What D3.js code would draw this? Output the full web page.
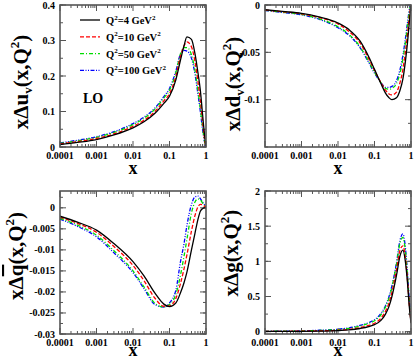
<!DOCTYPE html>
<html><head><meta charset="utf-8">
<script src="https://cdn.jsdelivr.net/npm/d3@7"></script>
<style>
html,body{margin:0;padding:0;background:#fff;}
svg{display:block;}
text{font-family:"Liberation Serif","Times New Roman",serif;font-weight:bold;}
</style></head>
<body>
<svg id="c" width="415" height="361"></svg>
<script>
// ---- data ----
const xValues = [1e-4, 3e-4, 1e-3, 3e-3, 0.01, 0.02, 0.04, 0.07, 0.1, 0.15, 0.2, 0.25, 0.3, 0.4, 0.5, 0.6, 0.7, 0.8, 0.9, 1];
const legendQ2 = ["4", "10", "50", "100"];

const uvQ4   = [0.0070, 0.013, 0.021, 0.034, 0.054, 0.071, 0.095, 0.123, 0.143, 0.19, 0.245, 0.285, 0.31, 0.303, 0.262, 0.21, 0.16, 0.095, 0.04, 0];
const uvQ10  = [0.0085, 0.015, 0.024, 0.037, 0.058, 0.075, 0.100, 0.130, 0.150, 0.20, 0.255, 0.285, 0.296, 0.282, 0.240, 0.185, 0.13, 0.075, 0.028, 0];
const uvQ50  = [0.0100, 0.017, 0.027, 0.041, 0.063, 0.081, 0.107, 0.138, 0.160, 0.21, 0.262, 0.280, 0.280, 0.260, 0.215, 0.160, 0.108, 0.058, 0.02, 0];
const uvQ100 = [0.0115, 0.019, 0.029, 0.043, 0.066, 0.084, 0.110, 0.142, 0.165, 0.215, 0.262, 0.272, 0.270, 0.250, 0.205, 0.150, 0.100, 0.052, 0.017, 0];

const dvQ4   = [-0.0050, -0.0068, -0.0088, -0.0125, -0.019, -0.026, -0.038, -0.055, -0.068, -0.083, -0.093, -0.098, -0.100, -0.098, -0.090, -0.078, -0.060, -0.040, -0.018, 0];
const dvQ10  = [-0.0053, -0.0071, -0.0093, -0.0132, -0.020, -0.028, -0.040, -0.057, -0.069, -0.082, -0.090, -0.094, -0.095, -0.092, -0.082, -0.068, -0.050, -0.031, -0.012, 0];
const dvQ50  = [-0.0056, -0.0076, -0.0100, -0.0145, -0.023, -0.031, -0.044, -0.060, -0.071, -0.082, -0.088, -0.089, -0.088, -0.083, -0.072, -0.057, -0.040, -0.022, -0.007, 0];
const dvQ100 = [-0.0058, -0.0079, -0.0104, -0.0150, -0.024, -0.032, -0.045, -0.061, -0.072, -0.082, -0.087, -0.087, -0.086, -0.080, -0.068, -0.053, -0.036, -0.019, -0.005, 0];

const qbQ4   = [-0.0020, -0.0034, -0.0053, -0.0085, -0.0128, -0.0162, -0.0203, -0.0229, -0.0235, -0.0226, -0.0202, -0.0178, -0.0153, -0.0100, -0.0060, -0.0028, -0.0008, -0.0002, 0, 0];
const qbQ10  = [-0.0022, -0.0037, -0.0058, -0.0092, -0.0137, -0.0173, -0.0215, -0.0234, -0.0233, -0.0215, -0.0180, -0.0145, -0.0112, -0.0055, -0.0018, 0.0002, 0.0008, 0.0007, 0.0004, 0.0002];
const qbQ50  = [-0.0025, -0.0041, -0.0065, -0.0102, -0.0150, -0.0188, -0.0227, -0.0236, -0.0230, -0.0205, -0.0160, -0.0115, -0.0075, -0.0012, 0.0014, 0.0021, 0.0019, 0.0012, 0.0006, 0.0004];
const qbQ100 = [-0.0027, -0.0044, -0.0069, -0.0107, -0.0154, -0.0192, -0.0230, -0.0236, -0.0226, -0.0195, -0.0128, -0.0085, -0.0042, 0.0008, 0.0026, 0.0028, 0.0022, 0.0014, 0.0008, 0.0006];

const gQ4   = [0.003, 0.004, 0.005, 0.008, 0.015, 0.025, 0.045, 0.072, 0.10, 0.16, 0.25, 0.36, 0.50, 0.80, 1.08, 1.16, 1.00, 0.70, 0.35, 0.12];
const gQ10  = [0.004, 0.005, 0.007, 0.011, 0.020, 0.033, 0.057, 0.088, 0.12, 0.19, 0.29, 0.41, 0.56, 0.88, 1.16, 1.22, 1.05, 0.74, 0.38, 0.14];
const gQ50  = [0.005, 0.007, 0.010, 0.017, 0.030, 0.048, 0.080, 0.118, 0.155, 0.24, 0.35, 0.48, 0.63, 0.96, 1.26, 1.34, 1.15, 0.80, 0.42, 0.17];
const gQ100 = [0.005, 0.008, 0.012, 0.020, 0.035, 0.055, 0.090, 0.130, 0.17, 0.26, 0.37, 0.50, 0.65, 0.98, 1.30, 1.39, 1.20, 0.84, 0.45, 0.20];

const xTickValues = [1e-4, 1e-3, 1e-2, 1e-1, 1];
const xTickLabels = ["0.0001", "0.001", "0.01", "0.1", "1"];

const uvTicks = [0, 0.1, 0.2, 0.3, 0.4];
const uvTickLabels = ["0", "0.1", "0.2", "0.3", "0.4"];
const dvTicks = [-0.1, -0.05, 0];
const dvTickLabels = ["-0.1", "-0.05", "0"];
const qbTicks = [-0.03, -0.025, -0.02, -0.015, -0.01, -0.005, 0];
const qbTickLabels = ["-0.03", "-0.025", "-0.02", "-0.015", "-0.01", "-0.005", "0"];
const gTicks = [0, 0.5, 1, 1.5, 2];
const gTickLabels = ["0", "0.5", "1", "1.5", "2"];

// ---- styles ----
const colors = ["#000000", "#ff0000", "#00dd00", "#0000ff"];
const dashes = [null, "4,2", "4,2,1,2", "4,1.5,1,1.5,1,1.5"];
const frameColor = "#555";

const svg = d3.select("#c");

function panel(cfg) {
  const {x0, x1, y0, y1, ydom, yTicks, yLabels, yMinorStep, series, labelParts, labelX, labelY, xLabelY} = cfg;
  const xs = d3.scaleLog().domain([1e-4, 1]).range([x0, x1]);
  const ys = d3.scaleLinear().domain(ydom).range([y1, y0]);
  const g = svg.append("g");
  const clipId = "clip" + Math.round(x0) + "_" + Math.round(y0);
  g.append("clipPath").attr("id", clipId).append("rect")
    .attr("x", x0).attr("y", y0).attr("width", x1 - x0).attr("height", y1 - y0);

  const minorX = [];
  for (let e = -4; e < 0; e++) for (let k = 2; k <= 9; k++) minorX.push(k * Math.pow(10, e));
  const tk = g.append("g").attr("stroke", frameColor).attr("stroke-width", 1);
  minorX.forEach(v => {
    const px = xs(v);
    tk.append("line").attr("x1", px).attr("x2", px).attr("y1", y1).attr("y2", y1 - 3);
    tk.append("line").attr("x1", px).attr("x2", px).attr("y1", y0).attr("y2", y0 + 3);
  });
  xTickValues.forEach(v => {
    const px = xs(v);
    tk.append("line").attr("x1", px).attr("x2", px).attr("y1", y1).attr("y2", y1 - 6);
    tk.append("line").attr("x1", px).attr("x2", px).attr("y1", y0).attr("y2", y0 + 6);
  });
  const minorStart = Math.ceil(ydom[0] / yMinorStep - 1e-6) * yMinorStep;
  d3.range(minorStart, ydom[1] + 1e-9, yMinorStep).forEach(v => {
    const py = ys(v);
    tk.append("line").attr("x1", x0).attr("x2", x0 + 3).attr("y1", py).attr("y2", py);
    tk.append("line").attr("x1", x1).attr("x2", x1 - 3).attr("y1", py).attr("y2", py);
  });
  yTicks.forEach(v => {
    const py = ys(v);
    tk.append("line").attr("x1", x0).attr("x2", x0 + 6).attr("y1", py).attr("y2", py);
    tk.append("line").attr("x1", x1).attr("x2", x1 - 6).attr("y1", py).attr("y2", py);
  });

  const line = d3.line().x((d, i) => xs(xValues[i])).y(d => ys(d)).curve(d3.curveMonotoneX);
  const cg = g.append("g").attr("clip-path", "url(#" + clipId + ")");
  series.slice().reverse().forEach((s, ri) => {
    const i = series.length - 1 - ri;
    cg.append("path").attr("d", line(s)).attr("fill", "none")
      .attr("stroke", colors[i]).attr("stroke-width", 1.3)
      .attr("stroke-dasharray", dashes[i]);
  });

  g.append("rect").attr("x", x0).attr("y", y0).attr("width", x1 - x0).attr("height", y1 - y0)
    .attr("fill", "none").attr("stroke", frameColor).attr("stroke-width", 1.6);

  xTickValues.forEach((v, i) => {
    g.append("text").attr("x", xs(v)).attr("y", y1 + 12).attr("text-anchor", "middle")
      .attr("font-size", 10).text(xTickLabels[i]);
  });
  yTicks.forEach((v, i) => {
    g.append("text").attr("x", x0 - 5).attr("y", ys(v) + 3.5).attr("text-anchor", "end")
      .attr("font-size", 10).text(yLabels[i]);
  });
  g.append("text").attr("x", (x0 + x1) / 2).attr("y", xLabelY).attr("text-anchor", "middle")
    .attr("font-size", 18).text("x");
  const t = g.append("text").attr("transform", `translate(${labelX},${labelY}) rotate(-90)`)
    .attr("text-anchor", "middle").attr("font-size", 21);
  labelParts.forEach(p => {
    const ts = t.append("tspan").text(p.t);
    if (p.sub) ts.attr("font-size", 13).attr("dy", 4);
    if (p.sup) ts.attr("font-size", 13).attr("dy", -9);
    if (p.back) ts.attr("dy", p.back);
    if (p.over) ts.attr("text-decoration", "overline");
  });
  return {xs, ys, g};
}

panel({x0: 60, x1: 206, y0: 5, y1: 147, ydom: [0, 0.4], yTicks: uvTicks, yLabels: uvTickLabels,
  yMinorStep: 0.05, series: [uvQ4, uvQ10, uvQ50, uvQ100],
  labelParts: [{t: "xΔu"}, {t: "v", sub: true}, {t: "(x,Q", back: -4}, {t: "2", sup: true}, {t: ")", back: 9}],
  labelX: 28, labelY: 82, xLabelY: 174});
panel({x0: 265, x1: 411, y0: 5, y1: 147, ydom: [-0.15, 0], yTicks: dvTicks, yLabels: dvTickLabels,
  yMinorStep: 0.025, series: [dvQ4, dvQ10, dvQ50, dvQ100],
  labelParts: [{t: "xΔd"}, {t: "v", sub: true}, {t: "(x,Q", back: -4}, {t: "2", sup: true}, {t: ")", back: 9}],
  labelX: 240, labelY: 84, xLabelY: 174});
panel({x0: 60, x1: 206, y0: 191, y1: 334, ydom: [-0.03, 0.004], yTicks: qbTicks, yLabels: qbTickLabels,
  yMinorStep: 0.0025, series: [qbQ4, qbQ10, qbQ50, qbQ100],
  labelParts: [{t: "xΔ"}, {t: "q", over: true}, {t: "(x,Q"}, {t: "2", sup: true}, {t: ")", back: 9}],
  labelX: 23, labelY: 256, xLabelY: 356});
panel({x0: 265, x1: 411, y0: 191, y1: 334, ydom: [-0.033, 2], yTicks: gTicks, yLabels: gTickLabels,
  yMinorStep: 0.25, series: [gQ4, gQ10, gQ50, gQ100],
  labelParts: [{t: "xΔg(x,Q"}, {t: "2", sup: true}, {t: ")", back: 9}],
  labelX: 238, labelY: 253, xLabelY: 356});

const lg = svg.append("g");
legendQ2.forEach((q, i) => {
  const y = 20 + i * 16.8;
  lg.append("line").attr("x1", 80).attr("x2", 100).attr("y1", y).attr("y2", y)
    .attr("stroke", colors[i]).attr("stroke-width", 1.3).attr("stroke-dasharray", dashes[i]);
  const t = lg.append("text").attr("x", 106).attr("y", y + 4).attr("font-size", 10.5);
  t.append("tspan").text("Q");
  t.append("tspan").attr("font-size", 7).attr("dy", -4.5).text("2");
  t.append("tspan").attr("dy", 4.5).text("=" + q + " GeV");
  t.append("tspan").attr("font-size", 7).attr("dy", -4.5).text("2");
});
svg.append("text").attr("x", 83).attr("y", 103).attr("font-size", 14).text("LO");
</script>
</body></html>
